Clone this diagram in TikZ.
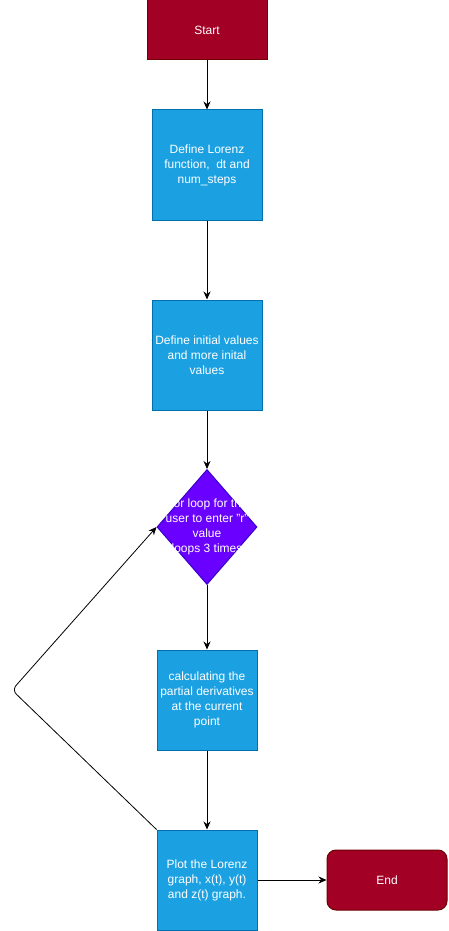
\documentclass[tikz,border=0pt]{standalone}
\usepackage{fontspec}
\setmainfont{Liberation Sans}
\usepackage{tikz}
\usetikzlibrary{shapes.geometric,arrows.meta}

\definecolor{termfill}{HTML}{A20025}
\definecolor{termline}{HTML}{6F0000}
\definecolor{procfill}{HTML}{1BA1E2}
\definecolor{procline}{HTML}{006EAF}
\definecolor{decfill}{HTML}{6A00FF}
\definecolor{decline}{HTML}{3700CC}

\tikzset{
  every node/.style={font=\fontsize{12}{15}\selectfont, text=white, align=center},
  terminal/.style={draw=termline, fill=termfill, line width=1pt,
    minimum width=120pt, minimum height=60pt},
  process/.style={draw=procline, fill=procfill, line width=1pt,
    minimum width=#1, minimum height=#1, inner sep=1pt},
  decision/.style={draw=decline, fill=decfill, line width=1pt, diamond,
    minimum width=100pt, minimum height=115pt, inner sep=0pt},
  flow/.style={-{Stealth[length=8pt,width=7pt]}, line width=0.8pt, black}
}

\begin{document}
\begin{tikzpicture}[x=1pt, y=-1pt]
    \useasboundingbox (0,0) rectangle (448,931);
            \node[terminal] (start) at (207,30) {Start};
            \node[process=110pt] (deflorenz) at (207,165) {Define Lorenz\\function,\ \ dt and\\num\_steps};
            \node[process=110pt] (definit) at (207,355) {Define initial values\\and more inital\\values};
            \node[decision] (forloop) at (207,527) {};
            \node (forlooptext) at (forloop.center) {For loop for the\\user to enter "r"\\value\\loops 3 times};
            \node[process=100pt] (calc) at (207,700) {calculating the\\partial derivatives\\at the current\\point};
            \node[process=100pt] (plot) at (207,880) {Plot the Lorenz\\graph, x(t), y(t)\\and z(t) graph.};
            \node[terminal, rounded corners=9pt] (end) at (387,880) {End};
            \coordinate (back) at (12,690);
            % connectors
            \draw[flow] (start) -- (deflorenz);
            \draw[flow] (deflorenz) -- (definit);
            \draw[flow] (definit) -- (forloop);
            \draw[flow] (forloop) -- (calc);
            \draw[flow] (calc) -- (plot);
            \draw[flow] (plot) -- (end);
            \draw[flow, rounded corners=6pt] (plot.north west) -- (back) -- (forloop.west);
\end{tikzpicture}
\end{document}
